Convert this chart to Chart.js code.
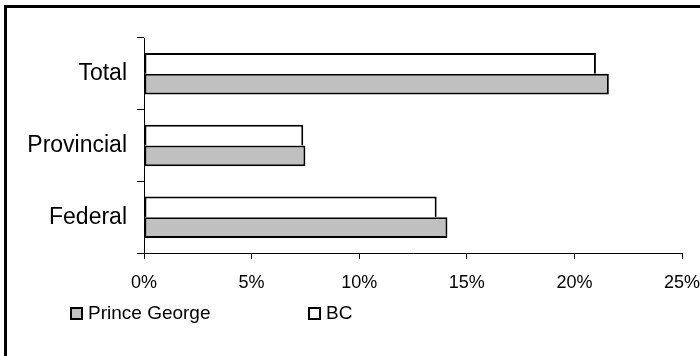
<!DOCTYPE html>
<html>
<head>
<meta charset="utf-8">
<title>Prince George vs BC</title>
<script src="https://cdn.jsdelivr.net/npm/chart.js@4/dist/chart.umd.min.js"></script>
<style>
  html, body { margin: 0; padding: 0; background: #fff; }
  #wrap { width: 700px; height: 356px; position: relative; }
</style>
</head>
<body>
<div id="wrap"><canvas id="chart" width="700" height="356"></canvas></div>
<script>
// Categories, top to bottom
const categories = ['Total', 'Provincial', 'Federal'];

// Series values (percent)
const princeGeorge = [21.6, 7.5, 14.1];
const bc = [21.0, 7.4, 13.6];

// Value axis ticks
const xTicks = [0, 5, 10, 15, 20, 25];

const FONT = "'Liberation Sans', Arial, sans-serif";

// Outer frame (left and top edges) on a white background
const framePlugin = {
  id: 'frame',
  beforeDraw(chart) {
    const ctx = chart.ctx;
    ctx.save();
    ctx.fillStyle = '#ffffff';
    ctx.fillRect(0, 0, chart.width, chart.height);
    ctx.fillStyle = '#000000';
    ctx.fillRect(4, 5, 3, chart.height - 5);
    ctx.fillRect(4, 5, chart.width - 4, 3);
    ctx.restore();
  }
};

// Legend row below the value axis: Prince George first, then BC
const legendPlugin = {
  id: 'bottomLegend',
  afterDraw(chart) {
    const ctx = chart.ctx;
    const order = [1, 0];
    const xs = [70, 308];
    const y = 307;
    const box = 13;
    ctx.save();
    ctx.font = '19px ' + FONT;
    ctx.textBaseline = 'middle';
    ctx.textAlign = 'left';
    order.forEach((di, i) => {
      const ds = chart.data.datasets[di];
      ctx.fillStyle = ds.backgroundColor;
      ctx.fillRect(xs[i], y, box, box);
      ctx.lineWidth = 2;
      ctx.strokeStyle = '#000';
      ctx.strokeRect(xs[i] + 1, y + 1, box - 2, box - 2);
      ctx.fillStyle = '#000';
      ctx.fillText(ds.label, xs[i] + box + 5, y + box / 2 + 0.5);
    });
    ctx.restore();
  }
};

new Chart(document.getElementById('chart'), {
  type: 'bar',
  data: {
    labels: categories,
    datasets: [
      {
        label: 'BC',
        data: bc,
        backgroundColor: '#ffffff',
        borderColor: '#000000',
        borderWidth: { top: 2, right: 2, bottom: 0, left: 2 },
        borderSkipped: false,
        categoryPercentage: 0.58,
        barPercentage: 1.0
      },
      {
        label: 'Prince George',
        data: princeGeorge,
        backgroundColor: '#c0c0c0',
        borderColor: '#000000',
        borderWidth: 2,
        borderSkipped: false,
        categoryPercentage: 0.58,
        barPercentage: 1.0
      }
    ]
  },
  options: {
    indexAxis: 'y',
    responsive: false,
    animation: false,
    devicePixelRatio: 1,
    layout: { padding: { left: 10, top: 38, right: 0, bottom: 63 } },
    plugins: {
      legend: { display: false },
      tooltip: { enabled: false },
      title: { display: false }
    },
    scales: {
      x: {
        type: 'linear',
        min: xTicks[0],
        max: xTicks[xTicks.length - 1],
        afterBuildTicks(scale) {
          scale.ticks = xTicks.map(v => ({ value: v }));
        },
        afterFit(scale) {
          scale.height = 40;
          scale.paddingRight = 18;
        },
        ticks: {
          callback: v => v + '%',
          color: '#000',
          font: { family: FONT, size: 18 },
          padding: 13,
          maxRotation: 0
        },
        grid: {
          drawOnChartArea: false,
          drawTicks: true,
          tickLength: 6,
          color: '#000',
          lineWidth: 1
        },
        border: { display: true, color: '#000', width: 1 }
      },
      y: {
        type: 'category',
        offset: true,
        afterFit(scale) { scale.width = 134; },
        ticks: {
          color: '#000',
          font: { family: FONT, size: 23 },
          padding: 10
        },
        grid: {
          offset: true,
          drawOnChartArea: false,
          drawTicks: true,
          tickLength: 7,
          color: '#000',
          lineWidth: 1
        },
        border: { display: true, color: '#000', width: 1 }
      }
    }
  },
  plugins: [framePlugin, legendPlugin]
});
</script>
</body>
</html>
